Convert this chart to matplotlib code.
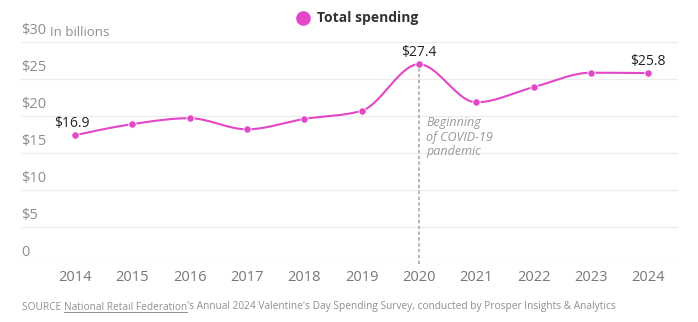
import numpy as np
import matplotlib
matplotlib.use("Agg")
import matplotlib.pyplot as plt
from matplotlib import transforms

years = [2014, 2015, 2016, 2017, 2018, 2019, 2020, 2021, 2022, 2023, 2024]
spending = [17.4, 18.9, 19.7, 18.2, 19.6, 20.7, 27.0, 21.85, 23.9, 25.85, 25.8]
y_ticks = [0, 5, 10, 15, 20, 25, 30]
y_tick_labels = ["0", "$5", "$10", "$15", "$20", "$25", "$30"]
value_labels = {2014: "$16.9", 2020: "$27.4", 2024: "$25.8"}

LINE = "#E346C6"
GRAY = "#8f8f8f"
FONT = "Open Sans"
plt.rcParams['font.family'] = [FONT, 'DejaVu Sans']


def monotone_x(x, y, n=40):
    x = np.asarray(x, float); y = np.asarray(y, float)
    h = np.diff(x); d = np.diff(y) / h
    m = np.zeros_like(y)
    for i in range(1, len(x) - 1):
        if d[i - 1] * d[i] <= 0:
            m[i] = 0
        else:
            p = (d[i - 1] * h[i] + d[i] * h[i - 1]) / (h[i - 1] + h[i])
            m[i] = (np.sign(d[i - 1]) + np.sign(d[i])) * min(abs(d[i - 1]), abs(d[i]), 0.5 * abs(p))
    m[0] = (3 * d[0] - m[1]) / 2 if len(x) > 2 else d[0]
    m[-1] = (3 * d[-1] - m[-2]) / 2
    xs, ys = [], []
    for i in range(len(x) - 1):
        t = np.linspace(0, 1, n, endpoint=False)
        h00 = 2 * t**3 - 3 * t**2 + 1; h10 = t**3 - 2 * t**2 + t
        h01 = -2 * t**3 + 3 * t**2; h11 = t**3 - t**2
        xs.append(x[i] + t * h[i])
        ys.append(h00 * y[i] + h10 * h[i] * m[i] + h01 * y[i + 1] + h11 * h[i] * m[i + 1])
    xs.append([x[-1]]); ys.append([y[-1]])
    return np.concatenate(xs), np.concatenate(ys)


W, H = 698, 322
fig = plt.figure(figsize=(W / 100, H / 100), dpi=100)
ax = fig.add_axes([21 / W, (H - 264) / H, (678 - 21) / W, (264 - 42) / H])
ax.set_xlim(2013.06, 2024.52)
ax.set_ylim(0, 30)
for s in ax.spines.values():
    s.set_visible(False)
ax.set_xticks([]); ax.set_yticks([])

for v in y_ticks:
    ax.axhline(v, color="#ececec", lw=0.9, zorder=0)

trans_y = transforms.blended_transform_factory(ax.transAxes, ax.transData)
for v, lab in zip(y_ticks, y_tick_labels):
    ax.text(0.0, v, lab, transform=trans_y + transforms.ScaledTranslation(0, 3 / 72, fig.dpi_scale_trans),
            ha="left", va="bottom", fontsize=10.5, color=GRAY)
ax.text(29 / 657, 30, "In billions", transform=trans_y + transforms.ScaledTranslation(0, 2 / 72, fig.dpi_scale_trans),
        ha="left", va="bottom", fontsize=9.5, color=GRAY)

trans_x = transforms.blended_transform_factory(ax.transData, ax.transAxes)
for yr in years:
    ax.text(yr, -0.06, str(yr), transform=trans_x, ha="center", va="center", fontsize=10.5, color="#777777")

# COVID line
iy = years.index(2020)
ax.plot([2020, 2020], [0, spending[iy]], ls=(0, (2, 1.5)), color="#aaaaaa", lw=1.2, zorder=1)
ax.text(2020.13, 20.0, "Beginning\nof COVID-19\npandemic", ha="left", va="top", fontsize=9,
        style="italic", color="#999999", linespacing=1.15)

xs, ys = monotone_x(years, spending)
ax.plot(xs, ys, color=LINE, lw=1.5, zorder=3, solid_capstyle="round")
ax.scatter(years, spending, s=28, color=LINE, zorder=4, edgecolor="white", linewidth=0.6)

for yr, lab in value_labels.items():
    v = spending[years.index(yr)]
    ax.annotate(lab, (yr, v), xytext=(-2 if yr == 2014 else 0, 3), textcoords="offset points",
                ha="center", va="bottom", fontsize=10, color="#222222")

# legend
fig.add_artist(plt.Line2D([303 / W], [1 - 18 / H], marker="o", markersize=9.5, color=LINE, ls="none",
                          transform=fig.transFigure))
fig.text(317 / W, 1 - 18 / H, "Total spending", ha="left", va="center", fontsize=10, fontweight="bold", color="#333333")

# footer
fs = 7.3
t1 = fig.text(22 / W, 1 - 307 / H, "SOURCE ", ha="left", va="center", fontsize=fs, color=GRAY)
fig.canvas.draw()
r = fig.canvas.get_renderer()
bb = t1.get_window_extent(r)
t2 = fig.text(bb.x1 / W, 1 - 307 / H, "National Retail Federation", ha="left", va="center", fontsize=fs, color=GRAY)
bb2 = t2.get_window_extent(r)
fig.add_artist(plt.Line2D([bb2.x0 / W, bb2.x1 / W], [(bb2.y0 + 0.5) / H] * 2, color=GRAY, lw=0.7))
fig.text(bb2.x1 / W, 1 - 307 / H,
         "'s Annual 2024 Valentine's Day Spending Survey, conducted by Prosper Insights & Analytics",
         ha="left", va="center", fontsize=fs, color=GRAY)

fig.savefig("out.png", dpi=100)
